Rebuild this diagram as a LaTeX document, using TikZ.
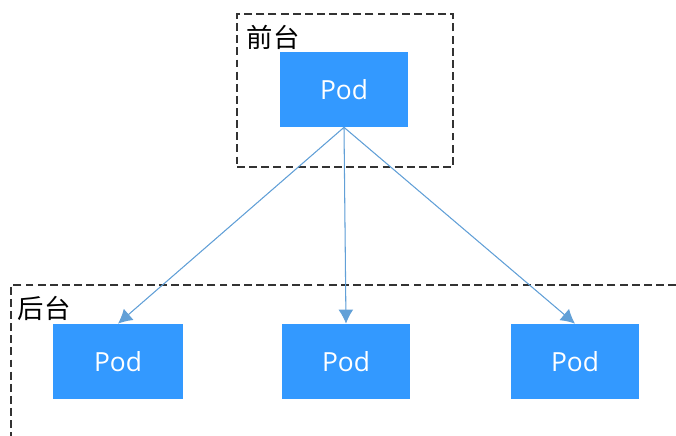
\documentclass[tikz,border=0pt]{standalone}
\usepackage{fontspec}
\setsansfont{Open Sans}
\newfontfamily\cjkfont{Noto Sans CJK SC}
\usetikzlibrary{arrows.meta}

\definecolor{podblue}{RGB}{51,153,255}
\definecolor{linkblue}{RGB}{98,160,215}

\begin{document}
\begin{tikzpicture}[x=0.02cm, y=-0.02cm,
    pod/.style={fill=podblue, text=white, minimum width=2.56cm, minimum height=1.5cm,
      inner sep=0pt, font=\sffamily\fontsize{15}{17}\selectfont},
    zone/.style={draw=black!80, line width=0.7pt, dash pattern=on 4.5pt off 2.4pt},
    link/.style={-{Latex[length=8pt, width=8.5pt]}, draw=linkblue, fill=linkblue, line width=0.6pt},
    tag/.style={font=\cjkfont\fontsize{15}{17}\selectfont, inner sep=0pt}]
  \useasboundingbox (0,0) rectangle (676,436);

  % ── Front tier ──
  \node[zone, minimum width=4.32cm, minimum height=3.06cm, inner sep=0pt] (frontzone) at (345,90.5) {};
  \node[tag] (fronttag) at (273,37) {前台};
  \node[pod] (front) at (344,89.5) {Pod};

  % ── Back tier (open to the right and below) ──
  \draw[zone] (676,285) -- (11,285) -- (11,436);
  \node[tag] (backtag) at (44,308) {后台};
  \node[pod, minimum width=2.6cm] (back1) at (118,361.5) {Pod};
  \node[pod] (back2) at (346,361.5) {Pod};
  \node[pod] (back3) at (575,361.5) {Pod};

  % ── Links ──
  \foreach \b in {back1,back2,back3}{
    \draw[link] (front.south) -- (\b.north);
  }
\end{tikzpicture}
\end{document}
